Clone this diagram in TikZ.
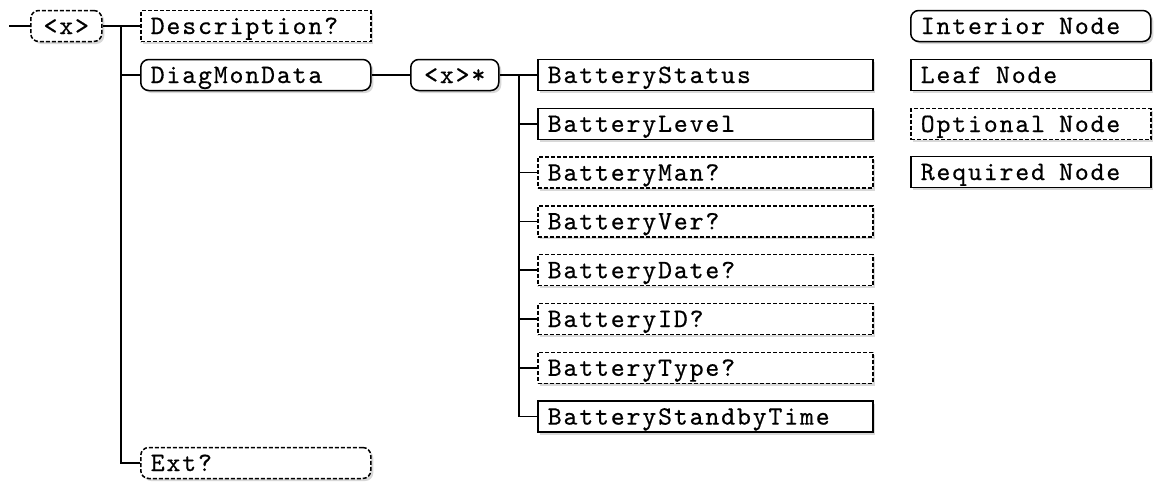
\documentclass[tikz,border=0pt]{standalone}
\usepackage{fontspec}
\usepackage{tikz}
\usetikzlibrary{shadows}
\newfontfamily\boxfam{lmmono10-regular.otf}[LetterSpace=7, FakeBold=0.5]
\newcommand{\boxfont}{\boxfam\fontsize{26.5}{30}\selectfont}
\newcommand{\wordgap}{\hspace{0.53em}}
\tikzset{
  treebox/.style  = {draw, line width=1.5pt, fill=white, minimum height=31pt,
                     inner xsep=10pt, inner ysep=0pt, text height=16pt, text depth=0pt,
                     font=\boxfont, anchor=west, align=left,
                     drop shadow={shadow xshift=2.5pt, shadow yshift=-2.5pt, fill=black!30}},
  interior/.style = {treebox, rounded corners=8pt},
  leaf/.style     = {treebox},
  optional/.style = {dash pattern=on 4pt off 2pt},
  optleaf/.style  = {leaf, optional},
  optint/.style   = {interior, optional},
  branch/.style   = {line width=1.5pt},
}

\begin{document}
\begin{tikzpicture}[x=1pt, y=-1pt]
    \useasboundingbox (0,0) rectangle (1157,482);

    % --- ROOT LEVEL ---
    \coordinate (in) at (9,26);
    \node[optint, text width=51pt, align=center] (root) at (30,26) {<x>};
    \node[optleaf, text width=210pt] (desc) at (140,26) {Description?};
    \node[interior, text width=210pt] (diag) at (140,75) {DiagMonData};
    \node[optint, text width=210pt] (ext) at (140,463) {Ext?};

    \coordinate (t1) at (121,26);
    \draw[branch] (in) -- (root.west);
    \draw[branch] (root.east) -- (desc.west);
    \draw[branch] (t1) |- (diag.west);
    \draw[branch] (t1) |- (ext.west);

    % --- DIAGMONDATA CHILDREN ---
    \node[interior, text width=68pt, align=center] (xs) at (410,75) {<x>*};
    \draw[branch] (diag.east) -- (xs.west);
    \coordinate (t2) at (519,75);

    \foreach \i/\txt/\kind in {1/BatteryStatus/leaf, 2/BatteryLevel/leaf,
                               3/BatteryMan?/optleaf, 4/BatteryVer?/optleaf,
                               5/BatteryDate?/optleaf, 6/BatteryID?/optleaf,
                               7/BatteryType?/optleaf, 8/BatteryStandbyTime/leaf} {
        \node[\kind, text width=315pt] (c\i) at (537,{75+(\i-1)*48.8}) {\txt};
        \draw[branch] (t2) |- (c\i.west);
    }
    \draw[branch] (xs.east) -- (c1.west);

    % --- LEGEND ---
    \node[interior, text width=220pt] (legint) at (910,26) {Interior\wordgap Node};
    \node[leaf, text width=220pt] (legleaf) at (910,75) {Leaf\wordgap Node};
    \node[optleaf, text width=220pt] (legopt) at (910,124) {Optional\wordgap Node};
    \node[leaf, text width=220pt] (legreq) at (910,172) {Required\wordgap Node};

\end{tikzpicture}
\end{document}
